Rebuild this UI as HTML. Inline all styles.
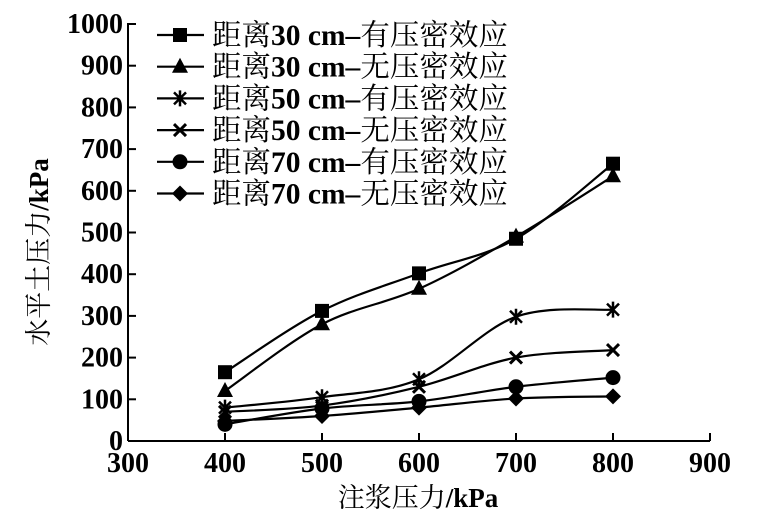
<!DOCTYPE html><html><head><meta charset="utf-8"><style>body{margin:0;background:#fff}svg{display:block}text{font-family:"Liberation Serif","Noto Serif CJK SC",serif;fill:#000}</style></head><body>
<svg id="s" width="766" height="527" xmlns="http://www.w3.org/2000/svg">
<g stroke="#000" stroke-width="2" fill="none">
<line x1="128" y1="441" x2="710" y2="441"/><line x1="128" y1="441" x2="128" y2="23"/>
</g>
<g id="ticks" stroke="#000" stroke-width="2"></g>
<g id="labels" font-size="28" font-weight="bold"></g>
<g id="series" stroke="#000" stroke-width="2.2" fill="none"></g>
<g id="marks" fill="#000" stroke="#000"></g>
<g id="leg" font-size="29.5" stroke="#000"></g>
<text x="418" y="507" font-size="27" text-anchor="middle">注浆压力<tspan font-weight="bold">/kPa</tspan></text>
<text transform="translate(48,252) rotate(-90)" font-size="27" text-anchor="middle">水平土压力<tspan font-weight="bold">/kPa</tspan></text>
</svg>
<script>
const NS="http://www.w3.org/2000/svg";
function el(t,a,p){const e=document.createElementNS(NS,t);for(const k in a)e.setAttribute(k,a[k]);(typeof p=='string'?document.getElementById(p):p).appendChild(e);return e;}
const X=v=>128+(v-300)*0.97, Y=v=>441-v*0.417;
for(let v=300;v<=900;v+=100){const x=X(v);el('line',{x1:x,y1:441,x2:x,y2:433},'ticks');const t=el('text',{x:x,y:472,'text-anchor':'middle'},'labels');t.textContent=v;}
for(let v=0;v<=1000;v+=100){const y=Y(v);el('line',{x1:128,y1:y,x2:136,y2:y},'ticks');const t=el('text',{x:123,y:y+9,'text-anchor':'end'},'labels');t.textContent=v;}
const data=[[165,312,402,485,665],[120,280,365,490,635],[80,105,148,298,315],[70,85,130,200,218],[40,78,95,130,152],[48,60,80,102,107]];
const kinds=['sq','tri','ast','x','circ','dia'];
function mark(k,x,y,p){
 if(k=='sq')el('rect',{x:x-7,y:y-7,width:14,height:14,stroke:'none',fill:'#000'},p);
 if(k=='tri')el('polygon',{points:`${x},${y-9} ${x-8},${y+6} ${x+8},${y+6}`,stroke:'none',fill:'#000'},p);
 if(k=='circ')el('circle',{cx:x,cy:y,r:7.5,stroke:'none',fill:'#000'},p);
 if(k=='dia')el('polygon',{points:`${x},${y-8} ${x+8},${y} ${x},${y+8} ${x-8},${y}`,stroke:'none',fill:'#000'},p);
 if(k=='x'){el('path',{d:`M${x-6} ${y-6}L${x+6} ${y+6}M${x+6} ${y-6}L${x-6} ${y+6}`,'stroke-width':3,fill:'none',stroke:'#000'},p);}
 if(k=='ast'){el('path',{d:`M${x-6} ${y-6}L${x+6} ${y+6}M${x+6} ${y-6}L${x-6} ${y+6}M${x} ${y-8}L${x} ${y+8}`,'stroke-width':2.5,fill:'none',stroke:'#000'},p);}
}
data.forEach((d,i)=>{
 const P=d.map((v,j)=>[X(400+100*j),Y(v)]);
 let s=`M${P[0][0]} ${P[0][1]}`;
 for(let j=0;j<P.length-1;j++){const p0=P[Math.max(j-1,0)],p1=P[j],p2=P[j+1],p3=P[Math.min(j+2,P.length-1)];
  s+=`C${p1[0]+(p2[0]-p0[0])/6} ${p1[1]+(p2[1]-p0[1])/6} ${p2[0]-(p3[0]-p1[0])/6} ${p2[1]-(p3[1]-p1[1])/6} ${p2[0]} ${p2[1]}`;}
 el('path',{d:s},'series');
 P.forEach(p=>mark(kinds[i],p[0],p[1],'marks'));
 const ly=35+i*31.7;
 el('line',{x1:157,y1:ly,x2:204,y2:ly,stroke:'#000','stroke-width':2.2},'leg');
 mark(kinds[i],180,ly,'leg');
 const t=el('text',{x:212,y:ly+10,stroke:'none'},'leg');
 const a=el('tspan',{},t);a.textContent='距离';
 const b=el('tspan',{'font-weight':'bold'},t);b.textContent=['30','30','50','50','70','70'][i]+' cm–';
 const c=el('tspan',{},t);c.textContent=(i%2?'无':'有')+'压密效应';
});
</script>
</body></html>
